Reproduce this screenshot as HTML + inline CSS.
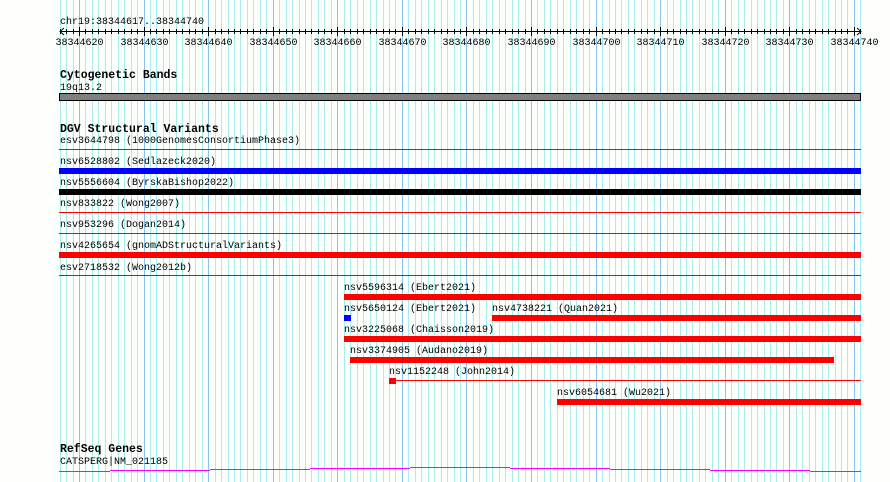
<!DOCTYPE html>
<html><head><meta charset="utf-8"><style>
html,body{margin:0;padding:0;background:#fdfffd;}
svg{display:block;}
text{font-family:"Liberation Mono",monospace;font-size:10px;fill:#000;}
.h{font-weight:bold;font-size:11.5px;}
</style></head><body>
<svg id="s" width="890" height="482" xmlns="http://www.w3.org/2000/svg">
<g id="grid"></g>
<g id="ruler"></g>
<text x="60" y="24">chr19:38344617..38344740</text>
<text class="h" x="60" y="78">Cytogenetic Bands</text>
<text x="60" y="90">19q13.2</text>
<rect x="59.5" y="93.5" width="801" height="7" fill="#808080" stroke="#000" stroke-width="1"/>
<text class="h" x="60" y="132">DGV Structural Variants</text>
<text x="60" y="143">esv3644798 (1000GenomesConsortiumPhase3)</text>
<rect x="59" y="149" width="802" height="1" fill="#f00"/>
<text x="60" y="164">nsv6528802 (Sedlazeck2020)</text>
<rect x="59" y="168" width="802" height="6" fill="#00f"/>
<text x="60" y="185">nsv5556604 (ByrskaBishop2022)</text>
<rect x="59" y="189" width="802" height="6" fill="#000"/>
<text x="60" y="206">nsv833822 (Wong2007)</text>
<rect x="59" y="212" width="802" height="1" fill="#f00"/>
<text x="60" y="227">nsv953296 (Dogan2014)</text>
<rect x="59" y="233" width="802" height="1" fill="#f00"/>
<text x="60" y="248">nsv4265654 (gnomADStructuralVariants)</text>
<rect x="59" y="252" width="802" height="6" fill="#f00"/>
<text x="60" y="270">esv2718532 (Wong2012b)</text>
<rect x="59" y="275" width="802" height="1" fill="#f00"/>
<text x="344" y="290">nsv5596314 (Ebert2021)</text>
<rect x="344" y="294" width="517" height="6" fill="#f00"/>
<text x="344" y="311">nsv5650124 (Ebert2021)</text>
<rect x="344" y="315" width="7" height="6" fill="#00f"/>
<text x="492" y="311">nsv4738221 (Quan2021)</text>
<rect x="492" y="315" width="369" height="6" fill="#f00"/>
<text x="344" y="332">nsv3225068 (Chaisson2019)</text>
<rect x="344" y="336" width="517" height="6" fill="#f00"/>
<text x="350" y="353">nsv3374905 (Audano2019)</text>
<rect x="350" y="357" width="484" height="6" fill="#f00"/>
<text x="389" y="374">nsv1152248 (John2014)</text>
<rect x="389" y="378" width="7" height="6" fill="#f00"/>
<rect x="396" y="380" width="465" height="1" fill="#f00"/>
<text x="557" y="395">nsv6054681 (Wu2021)</text>
<rect x="557" y="399" width="304" height="6" fill="#f00"/>
<text class="h" x="60" y="452">RefSeq Genes</text>
<text x="60" y="464">CATSPERG|NM_021185</text>
<g fill="#f0f">
<rect x="59" y="471" width="51" height="1"/>
<rect x="110" y="470" width="100" height="1"/>
<rect x="210" y="469" width="100" height="1"/>
<rect x="310" y="468" width="100" height="1"/>
<rect x="410" y="467" width="100" height="1"/>
<rect x="510" y="468" width="100" height="1"/>
<rect x="610" y="469" width="100" height="1"/>
<rect x="710" y="470" width="100" height="1"/>
<rect x="810" y="471" width="51" height="1"/>
</g>
</svg>
<script>
var NS="http://www.w3.org/2000/svg";
var g=document.getElementById("grid"),r=document.getElementById("ruler");
function el(p,t,a){var e=document.createElementNS(NS,t);for(var k in a)e.setAttribute(k,a[k]);p.appendChild(e);return e;}
for(var k=0;k<=124;k++){
 var x=Math.round(59.6+6.458*k)+0.5;
 var major=(617+k)%10==0;
 el(g,"line",{x1:x,y1:0,x2:x,y2:482,stroke:major?"#88c4ee":"#a8ecee","stroke-width":1});
 el(r,"line",{x1:x,y1:major?27:29,x2:x,y2:major?36:34,stroke:"#000","stroke-width":1});
 if(major){var t=el(r,"text",{x:x,y:45,"text-anchor":"middle"});t.textContent=String(38344617+k);}
}
el(r,"line",{x1:60,y1:31.5,x2:861,y2:31.5,stroke:"#000","stroke-width":1});
el(r,"path",{d:"M64 28 L60 31.5 L64 35 M857 28 L861 31.5 L857 35",stroke:"#000",fill:"none","stroke-width":1});
</script>
</body></html>
